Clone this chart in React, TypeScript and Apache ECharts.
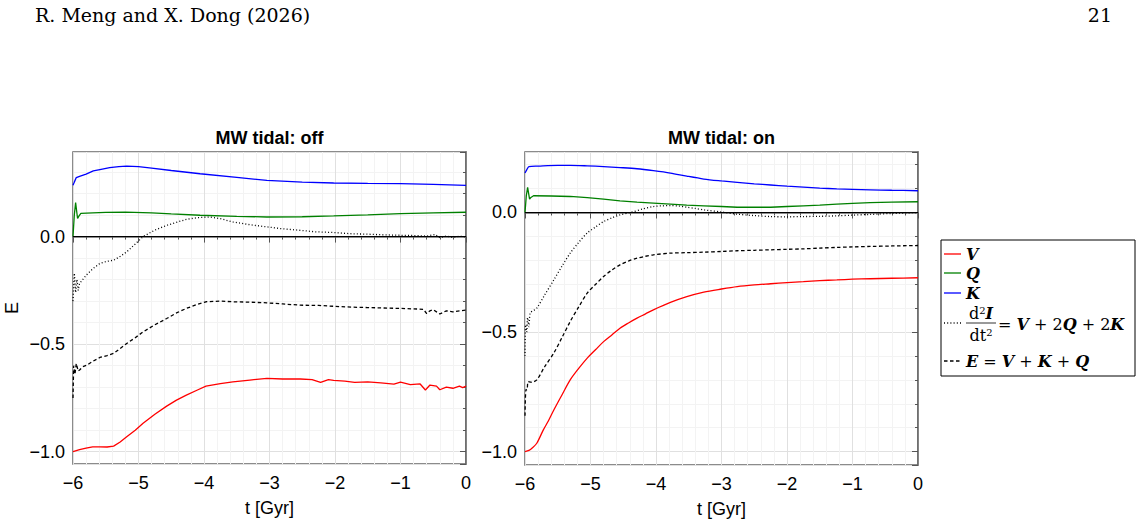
import React, { useEffect, useRef } from "react";
import * as echarts from "echarts";

// ---------- Panel "MW tidal: off" ----------
const offT_V = [-6, -5.9, -5.8, -5.7, -5.59, -5.48, -5.38, -5.28, -5.18, -5.05, -4.93, -4.75, -4.57, -4.42, -4.27, -4.1, -3.97, -3.75, -3.56, -3.3, -3.04, -2.8, -2.53, -2.35, -2.22, -2.1, -2.02, -1.85, -1.7, -1.5, -1.3, -1.1, -1.0, -0.85, -0.7, -0.62, -0.55, -0.45, -0.4, -0.3, -0.2, -0.1, -0.05, 0];
const off_V = [-1.0, -0.99, -0.983, -0.977, -0.977, -0.978, -0.974, -0.955, -0.93, -0.9, -0.868, -0.826, -0.788, -0.76, -0.737, -0.713, -0.695, -0.683, -0.675, -0.667, -0.659, -0.662, -0.662, -0.665, -0.678, -0.665, -0.668, -0.672, -0.678, -0.675, -0.68, -0.686, -0.676, -0.688, -0.685, -0.713, -0.69, -0.695, -0.712, -0.7, -0.705, -0.695, -0.702, -0.695];

const offT_Q = [-6, -5.98, -5.96, -5.945, -5.93, -5.91, -5.88, -5.7, -5.5, -5.2, -4.8, -4.5, -4.06, -3.5, -3.04, -2.5, -2.02, -1.5, -1.0, -0.5, 0];
const off_Q = [0.0, 0.1, 0.158, 0.12, 0.084, 0.095, 0.108, 0.11, 0.112, 0.114, 0.11, 0.105, 0.099, 0.094, 0.091, 0.092, 0.096, 0.101, 0.107, 0.11, 0.113];

const offT_K = [-6, -5.98, -5.95, -5.9, -5.8, -5.69, -5.59, -5.44, -5.3, -5.18, -5.0, -4.8, -4.5, -4.06, -3.5, -3.04, -2.5, -2.02, -1.5, -1.0, -0.5, 0];
const off_K = [0.238, 0.253, 0.274, 0.28, 0.29, 0.305, 0.311, 0.32, 0.325, 0.327, 0.325, 0.318, 0.307, 0.292, 0.275, 0.261, 0.253, 0.249, 0.247, 0.246, 0.243, 0.238];

const offT_I = [-6, -5.98, -5.96, -5.94, -5.92, -5.9, -5.8, -5.7, -5.59, -5.48, -5.38, -5.28, -5.18, -5.05, -4.93, -4.75, -4.57, -4.4, -4.27, -4.1, -3.91, -3.75, -3.56, -3.3, -3.04, -2.8, -2.53, -2.3, -2.02, -1.75, -1.5, -1.25, -1.0, -0.8, -0.6, -0.47, -0.4, -0.3, -0.2, -0.1, 0];
const off_I = [-0.3, -0.17, -0.26, -0.2, -0.25, -0.218, -0.18, -0.15, -0.125, -0.115, -0.11, -0.092, -0.071, -0.035, 0.0, 0.03, 0.052, 0.068, 0.08, 0.088, 0.091, 0.083, 0.068, 0.055, 0.045, 0.036, 0.029, 0.022, 0.019, 0.013, 0.011, 0.008, 0.006, 0.005, 0.002, 0.01, -0.005, 0.003, -0.004, 0.002, -0.002];

const offT_E = [-6, -5.99, -5.97, -5.95, -5.92, -5.9, -5.85, -5.79, -5.7, -5.59, -5.48, -5.38, -5.28, -5.18, -5.05, -4.93, -4.75, -4.57, -4.42, -4.27, -4.1, -3.97, -3.75, -3.56, -3.3, -3.04, -2.8, -2.53, -2.25, -2.02, -1.75, -1.5, -1.25, -1.0, -0.8, -0.65, -0.6, -0.55, -0.5, -0.45, -0.4, -0.3, -0.2, -0.1, 0];
const off_E = [-0.75, -0.6, -0.64, -0.59, -0.625, -0.62, -0.605, -0.598, -0.58, -0.562, -0.553, -0.543, -0.52, -0.497, -0.47, -0.443, -0.41, -0.381, -0.355, -0.334, -0.315, -0.303, -0.3, -0.303, -0.305, -0.308, -0.313, -0.319, -0.32, -0.324, -0.328, -0.33, -0.332, -0.334, -0.336, -0.338, -0.358, -0.345, -0.34, -0.35, -0.36, -0.345, -0.35, -0.345, -0.342];

// ---------- Panel "MW tidal: on" ----------
const onT_V = [-6, -5.94, -5.89, -5.82, -5.72, -5.64, -5.56, -5.43, -5.31, -5.18, -5.05, -4.92, -4.8, -4.67, -4.55, -4.42, -4.29, -4.16, -4.04, -3.78, -3.53, -3.27, -3.0, -2.76, -2.5, -2.25, -2.0, -1.75, -1.5, -1.24, -1.0, -0.73, -0.4, 0];
const on_V = [-1.0, -0.995, -0.985, -0.965, -0.909, -0.87, -0.826, -0.76, -0.7, -0.652, -0.609, -0.573, -0.54, -0.511, -0.484, -0.462, -0.442, -0.424, -0.407, -0.376, -0.352, -0.333, -0.32, -0.31, -0.303, -0.298, -0.293, -0.289, -0.285, -0.282, -0.279, -0.277, -0.275, -0.273];

const onT_Q = [-6, -5.98, -5.96, -5.945, -5.93, -5.91, -5.87, -5.6, -5.31, -5.05, -4.8, -4.55, -4.29, -4.04, -3.78, -3.53, -3.27, -3.0, -2.76, -2.5, -2.25, -2.0, -1.75, -1.5, -1.24, -1.0, -0.73, -0.4, 0];
const on_Q = [0.0, 0.07, 0.105, 0.08, 0.056, 0.063, 0.07, 0.069, 0.067, 0.062, 0.056, 0.049, 0.043, 0.039, 0.035, 0.031, 0.028, 0.025, 0.022, 0.022, 0.022, 0.025, 0.028, 0.031, 0.035, 0.038, 0.041, 0.043, 0.045];

const onT_K = [-6, -5.97, -5.94, -5.8, -5.5, -5.31, -5.05, -4.8, -4.55, -4.29, -4.04, -3.78, -3.53, -3.27, -3.0, -2.76, -2.5, -2.25, -2.0, -1.75, -1.5, -1.24, -1.0, -0.73, -0.4, 0];
const on_K = [0.165, 0.18, 0.192, 0.194, 0.197, 0.197, 0.195, 0.192, 0.188, 0.183, 0.175, 0.165, 0.152, 0.14, 0.132, 0.126, 0.12, 0.115, 0.11, 0.106, 0.102, 0.099, 0.097, 0.095, 0.093, 0.091];

const onT_I = [-6, -5.99, -5.975, -5.96, -5.94, -5.92, -5.87, -5.82, -5.7, -5.56, -5.43, -5.31, -5.18, -5.05, -4.92, -4.8, -4.67, -4.55, -4.39, -4.2, -4.04, -3.9, -3.78, -3.65, -3.53, -3.4, -3.27, -3.0, -2.76, -2.5, -2.25, -2.0, -1.75, -1.5, -1.24, -1.0, -0.73, -0.4, 0];
const on_I = [-0.6, -0.47, -0.5, -0.44, -0.477, -0.42, -0.41, -0.4, -0.345, -0.282, -0.222, -0.17, -0.125, -0.086, -0.06, -0.038, -0.022, -0.01, 0.0, 0.015, 0.025, 0.028, 0.029, 0.027, 0.022, 0.017, 0.011, 0.002, -0.007, -0.013, -0.017, -0.018, -0.017, -0.016, -0.014, -0.011, -0.008, -0.004, 0.0];

const onT_E = [-6, -5.985, -5.97, -5.95, -5.9, -5.82, -5.7, -5.56, -5.43, -5.31, -5.18, -5.05, -4.92, -4.8, -4.67, -4.55, -4.42, -4.29, -4.16, -4.04, -3.78, -3.53, -3.27, -3.0, -2.76, -2.5, -2.25, -2.0, -1.75, -1.5, -1.24, -1.0, -0.73, -0.4, 0];
const on_E = [-0.85, -0.74, -0.742, -0.707, -0.71, -0.7, -0.645, -0.588, -0.52, -0.456, -0.395, -0.337, -0.3, -0.268, -0.24, -0.219, -0.203, -0.191, -0.183, -0.177, -0.17, -0.168, -0.166, -0.163, -0.16, -0.158, -0.156, -0.154, -0.152, -0.149, -0.146, -0.144, -0.142, -0.14, -0.138];

// ---------- Axes / texts ----------
const panelTitles = ["MW tidal: off", "MW tidal: on"];
const xRange = [-6, 0];
const yRanges = [
  [-1.057, 0.393],
  [-1.056, 0.253],
];
const xName = "t [Gyr]";
const yName = "E";
const headerLeft = "R. Meng and X. Dong (2026)";
const headerRight = "21";

const RED = "#ff0000";
const GREEN = "#008000";
const BLUE = "#0000ff";
const DOT: number[] = [1, 2.2];
const DASH: number[] = [3.5, 2.5];
const SANS = '"Liberation Sans", Arial, Helvetica, sans-serif';
const SERIF = '"DejaVu Serif", serif';

const zip = (t: number[], v: number[]) => t.map((x, i) => [x, v[i]]);
const minus = (s: string) => s.replace(/-/g, "\u2212");

function mkLine(name: string, t: number[], v: number[], color: string, type: any, gi: number, extra: any = {}) {
  return {
    type: "line",
    name,
    xAxisIndex: gi,
    yAxisIndex: gi,
    data: zip(t, v),
    showSymbol: false,
    symbol: "none",
    lineStyle: { color, width: 1.3, type },
    itemStyle: { color },
    silent: true,
    ...extra,
  };
}

const zeroMark = {
  silent: true,
  symbol: ["none", "none"],
  label: { show: false },
  lineStyle: { color: "#000", width: 1.2, type: "solid" },
  data: [{ yAxis: 0 }],
};

const grids = [
  { left: 73, top: 152, width: 393, height: 312 },
  { left: 525, top: 152, width: 393, height: 313 },
];

function xAxisCfg(gi: number) {
  return {
    type: "value",
    gridIndex: gi,
    min: xRange[0],
    max: xRange[1],
    interval: 1,
    name: xName,
    nameLocation: "middle",
    nameGap: 35,
    nameTextStyle: { fontSize: 18, color: "#000", fontFamily: SANS },
    axisLine: { show: true, lineStyle: { color: "#666", width: 1.5 } },
    axisTick: { show: true, inside: false, length: 6, lineStyle: { color: "#555" } },
    minorTick: { show: true, splitNumber: 5, length: 3, lineStyle: { color: "#555" } },
    splitLine: { show: true, lineStyle: { color: "#e0e0e0", width: 1 } },
    minorSplitLine: { show: true, lineStyle: { color: "#f3f3f3", width: 1 } },
    axisLabel: {
      fontSize: 18,
      color: "#000",
      fontFamily: SANS,
      margin: 10,
      formatter: (v: number) => minus(String(Math.round(v))),
    },
  };
}

function yAxisCfg(gi: number) {
  return {
    type: "value",
    gridIndex: gi,
    min: yRanges[gi][0],
    max: yRanges[gi][1],
    splitNumber: 3,
    name: gi === 0 ? yName : "",
    nameLocation: "middle",
    nameGap: 52,
    nameTextStyle: { fontSize: 18, color: "#000", fontFamily: SANS },
    axisLine: { show: true, lineStyle: { color: "#666", width: 1.5 } },
    axisTick: { show: true, inside: false, length: 6, lineStyle: { color: "#555" } },
    minorTick: { show: true, splitNumber: 5, length: 3, lineStyle: { color: "#555" } },
    splitLine: { show: true, lineStyle: { color: "#e0e0e0", width: 1 } },
    minorSplitLine: { show: true, lineStyle: { color: "#f3f3f3", width: 1 } },
    axisLabel: {
      fontSize: 18,
      color: "#000",
      fontFamily: SANS,
      margin: 8,
      showMinLabel: false,
      showMaxLabel: false,
      formatter: (v: number) => minus(v.toFixed(1)),
    },
  };
}

const mathRich = {
  r: { fontFamily: SERIF, fontSize: 16, color: "#000" },
  b: { fontFamily: SERIF, fontSize: 16, fontWeight: "bold", fontStyle: "italic", color: "#000" },
  s: { fontFamily: SERIF, fontSize: 10, color: "#000", verticalAlign: "top", padding: [0, 0, 6, 0] },
};

export default function App() {
  const ref = useRef<HTMLDivElement>(null);
  useEffect(() => {
    if (!ref.current) return;
    const chart = echarts.init(ref.current, null, { renderer: "svg" });
    const series: any[] = [];
    const panels = [
      { V: [offT_V, off_V], Q: [offT_Q, off_Q], K: [offT_K, off_K], I: [offT_I, off_I], E: [offT_E, off_E] },
      { V: [onT_V, on_V], Q: [onT_Q, on_Q], K: [onT_K, on_K], I: [onT_I, on_I], E: [onT_E, on_E] },
    ];
    panels.forEach((p, gi) => {
      const sm = gi === 1 ? { smooth: 0.3 } : {};
      series.push(mkLine("V", p.V[0], p.V[1], RED, "solid", gi, { markLine: zeroMark, ...sm }));
      series.push(mkLine("Q", p.Q[0], p.Q[1], GREEN, "solid", gi));
      series.push(mkLine("K", p.K[0], p.K[1], BLUE, "solid", gi, sm));
      series.push(mkLine("d2I", p.I[0], p.I[1], "#000", DOT, gi, sm));
      series.push(mkLine("E", p.E[0], p.E[1], "#000", DASH, gi, sm));
    });

    const lx1 = 944, lx2 = 961, tx = 966;
    const graphic: any[] = [
      { type: "text", left: 35, top: 5, style: { text: headerLeft, font: `19px ${SERIF}`, fill: "#000" } },
      { type: "text", right: 31, top: 5, style: { text: headerRight, font: `19px ${SERIF}`, fill: "#000" } },
      { type: "text", x: 269.5, y: 129, style: { text: panelTitles[0], font: `bold 18px ${SANS}`, fill: "#000", textAlign: "center" } },
      { type: "text", x: 721.5, y: 129, style: { text: panelTitles[1], font: `bold 18px ${SANS}`, fill: "#000", textAlign: "center" } },
      { type: "rect", shape: { x: 941, y: 240, width: 194, height: 136 }, style: { fill: "#fff", stroke: "#000", lineWidth: 1 } },
      { type: "line", shape: { x1: lx1, y1: 254, x2: lx2, y2: 254 }, style: { stroke: RED, lineWidth: 1.3 } },
      { type: "line", shape: { x1: lx1, y1: 273, x2: lx2, y2: 273 }, style: { stroke: GREEN, lineWidth: 1.3 } },
      { type: "line", shape: { x1: lx1, y1: 293, x2: lx2, y2: 293 }, style: { stroke: BLUE, lineWidth: 1.3 } },
      { type: "line", shape: { x1: lx1, y1: 323, x2: lx2, y2: 323 }, style: { stroke: "#000", lineWidth: 1.3, lineDash: DOT } },
      { type: "line", shape: { x1: lx1, y1: 361, x2: lx2, y2: 361 }, style: { stroke: "#000", lineWidth: 1.3, lineDash: DASH } },
      { type: "text", x: tx, y: 254, style: { text: "{b|V}", rich: mathRich, verticalAlign: "middle" } },
      { type: "text", x: tx, y: 273, style: { text: "{b|Q}", rich: mathRich, verticalAlign: "middle" } },
      { type: "text", x: tx, y: 293, style: { text: "{b|K}", rich: mathRich, verticalAlign: "middle" } },
      { type: "text", x: 981, y: 313, style: { text: "{r|d}{s|2}{b|I}", rich: mathRich, verticalAlign: "middle", textAlign: "center" } },
      { type: "line", shape: { x1: 966, y1: 323, x2: 996, y2: 323 }, style: { stroke: "#000", lineWidth: 0.8 } },
      { type: "text", x: 981, y: 335, style: { text: "{r|dt}{s|2}", rich: mathRich, verticalAlign: "middle", textAlign: "center" } },
      { type: "text", x: 998, y: 324, style: { text: "{r|= }{b|V}{r| + 2}{b|Q}{r| + 2}{b|K}", rich: mathRich, verticalAlign: "middle" } },
      { type: "text", x: tx, y: 361, style: { text: "{b|E}{r| = }{b|V}{r| + }{b|K}{r| + }{b|Q}", rich: mathRich, verticalAlign: "middle" } },
    ];

    chart.setOption({
      animation: false,
      backgroundColor: "#fff",
      textStyle: { fontFamily: SANS },
      grid: grids.map((g) => ({ ...g, show: true, borderColor: "#666", borderWidth: 1.5, backgroundColor: "transparent" })),
      xAxis: [xAxisCfg(0), xAxisCfg(1)],
      yAxis: [yAxisCfg(0), yAxisCfg(1)],
      series,
      graphic,
    });
    return () => chart.dispose();
  }, []);
  return <div ref={ref} style={{ position: "absolute", left: 0, top: 0, width: 1143, height: 524 }} />;
}
